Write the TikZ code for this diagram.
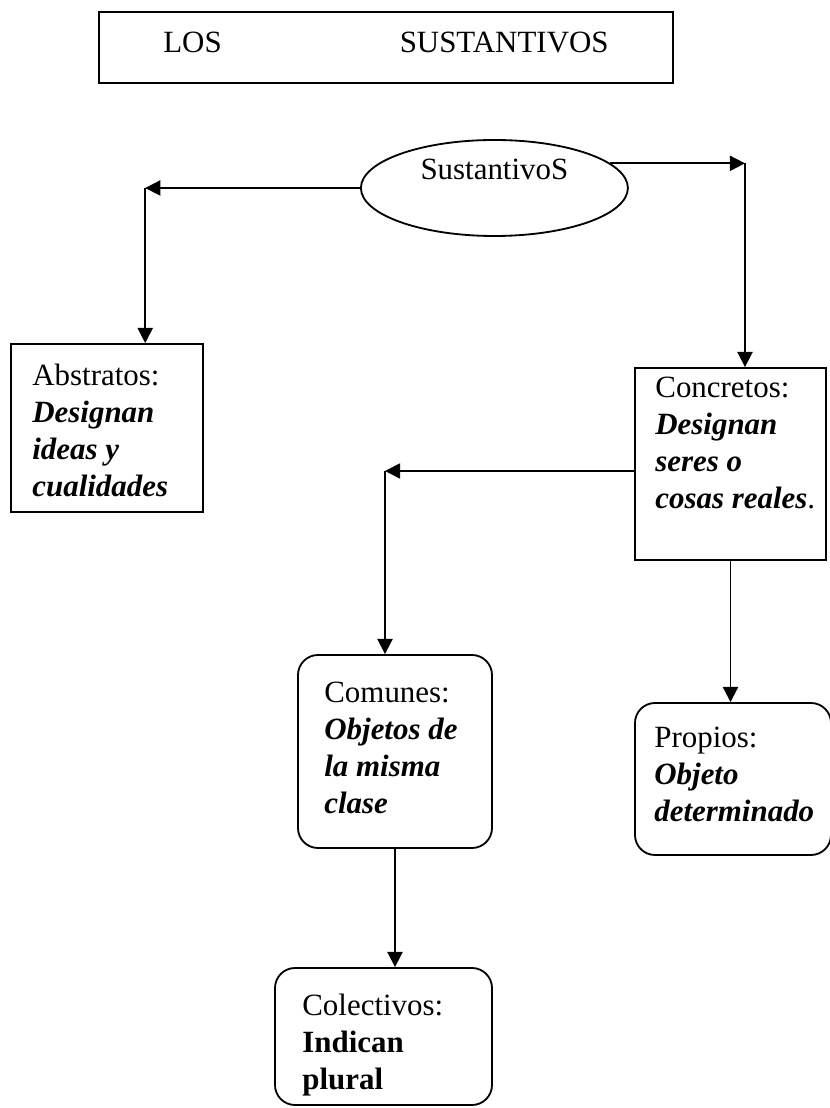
\documentclass[tikz,border=0pt]{standalone}
\usepackage{fontspec}
\setmainfont{Liberation Serif}
\usetikzlibrary{arrows.meta,shapes.geometric}

\tikzset{
  box/.style={draw, line width=1.3pt, inner sep=0pt},
  rbox/.style={box, rounded corners=0.5cm},
  txt/.style={anchor=north west, inner sep=0pt, align=left, font=\fontsize{22}{26.3}\selectfont},
  arr/.style={line width=1.3pt, -{Triangle[length=0.38cm,width=0.38cm]}},
}

\begin{document}
\begin{tikzpicture}
\useasboundingbox (0,0) rectangle (20.75,27.7);
\node[box, minimum width=14.35cm, minimum height=1.775cm, text depth=0.25cm, font=\fontsize{22}{26.3}\selectfont] (title) at (9.65,26.5125) {LOS\hspace{4.45cm}SUSTANTIVOS};
\node[box, ellipse, minimum width=6.675cm, minimum height=2.4cm, text height=0.5cm, text depth=0.9cm, font=\fontsize{22}{26.3}\selectfont] (sus) at (12.36,23.0) {SustantivoS};
\node[box, minimum width=4.8cm, minimum height=4.2cm] (abs) at (2.675,17.0) {};
\node[txt] (abs-t) at ([xshift=0.55cm,yshift=-0.52cm]abs.north west) {Abstratos:\\\textbf{\textit{Designan}}\\\textbf{\textit{ideas y}}\\\textbf{\textit{cualidades}}};
\node[box, minimum width=4.775cm, minimum height=4.8cm] (con) at (18.2625,16.1) {};
\node[txt] (con-t) at ([xshift=0.525cm,yshift=-0.25cm]con.north west) {Concretos:\\\textbf{\textit{Designan}}\\\textbf{\textit{seres o}}\\\textbf{\textit{cosas reales}}.};
\node[rbox, minimum width=4.85cm, minimum height=4.825cm] (com) at (9.875,8.9125) {};
\node[txt] (com-t) at ([xshift=0.675cm,yshift=-0.7cm]com.north west) {Comunes:\\\textbf{\textit{Objetos de}}\\\textbf{\textit{la misma}}\\\textbf{\textit{clase}}};
\node[rbox, minimum width=4.9cm, minimum height=3.8cm] (pro) at (18.325,8.225) {};
\node[txt] (pro-t) at ([xshift=0.5cm,yshift=-0.625cm]pro.north west) {Propios:\\\textbf{\textit{Objeto}}\\\textbf{\textit{determinado}}};
\node[rbox, minimum width=5.425cm, minimum height=3.425cm] (col) at (9.5875,1.7875) {};
\node[txt] (col-t) at ([xshift=0.7cm,yshift=-0.675cm]col.north west) {Colectivos:\\\textbf{Indican}\\\textbf{plural}};
\coordinate (la) at (3.63,23.0);
\coordinate (ra) at (18.625,23.6);
\coordinate (cl) at (9.625,15.925);
\draw[arr] (sus.west) -- (sus.west -| la);
\draw[arr] (sus.west -| la) -- (abs.north -| la);
\draw[arr] (sus.12) -- (sus.12 -| ra);
\draw[arr] (sus.12 -| ra) -- (con.north -| ra);
\draw[arr] (con.west |- cl) -- (cl);
\draw[arr] (cl) -- (com.north -| cl);
\draw[arr] (con.south) -- (pro.north -| con.south);
\draw[arr] (com.south) -- (col.north -| com.south);
\end{tikzpicture}
\end{document}
